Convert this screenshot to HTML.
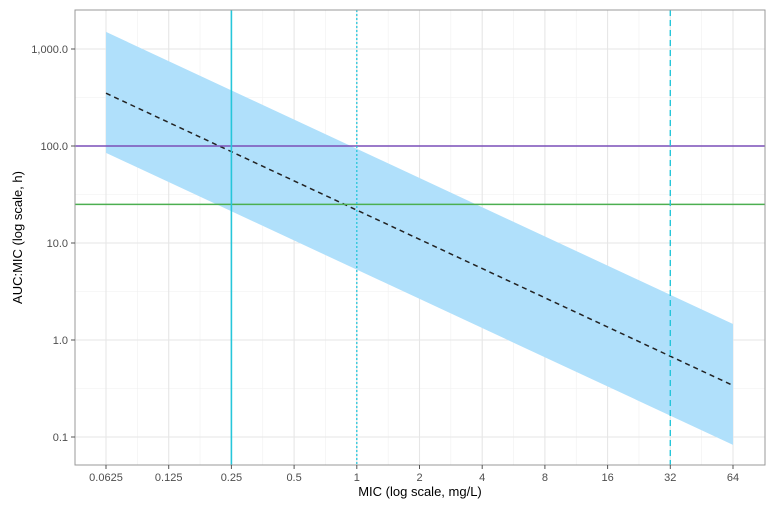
<!DOCTYPE html>
<html><head><meta charset="utf-8"><style>
body{margin:0;background:#fff;width:774px;height:505px;overflow:hidden}
svg text{font-family:"Liberation Sans",Arial,sans-serif}
</style></head><body>
<svg id="chart" width="774" height="505"></svg>
<script>
const xTicks=[0.0625,0.125,0.25,0.5,1,2,4,8,16,32,64];
const xTickLabels=["0.0625","0.125","0.25","0.5","1","2","4","8","16","32","64"];
const yTicks=[0.1,1,10,100,1000];
const yTickLabels=["0.1","1.0","10.0","100.0","1,000.0"];
const bandMic=[0.0625,64];
const bandUpper=[1500,1.46];
const bandLower=[85,0.083];
const medianAuc=[350,0.34];
const hLines=[100,25];
const vLines=[0.25,1,32];
const L=75,R=765,T=10,B=465;
const X=v=>106+62.7*Math.log2(v/0.0625);
const Y=v=>437-97*Math.log10(v/0.1);
const svg=document.getElementById('chart');
const NS='http://www.w3.org/2000/svg';
function mk(t,a,name){const e=document.createElementNS(NS,t);for(const k in a)e.setAttribute(k,a[k]);


svg.appendChild(e);return e;}
// minor grid
for(let i=0;i<xTicks.length-1;i++){const m=X(Math.sqrt(xTicks[i]*xTicks[i+1]));mk('line',{x1:m,x2:m,y1:T,y2:B,stroke:'#f0f0f0','stroke-width':0.6},'x-minor-grid');}
for(let i=0;i<yTicks.length-1;i++){const m=Y(Math.sqrt(yTicks[i]*yTicks[i+1]));mk('line',{x1:L,x2:R,y1:m,y2:m,stroke:'#f0f0f0','stroke-width':0.6},'y-minor-grid');}
xTicks.forEach(v=>mk('line',{x1:X(v),x2:X(v),y1:T,y2:B,stroke:'#e6e6e6','stroke-width':1.1},'x-major-grid'));
yTicks.forEach(v=>mk('line',{x1:L,x2:R,y1:Y(v),y2:Y(v),stroke:'#e6e6e6','stroke-width':1.1},'y-major-grid'));
// band
mk('polygon',{points:`${X(bandMic[0])},${Y(bandUpper[0])} ${X(bandMic[1])},${Y(bandUpper[1])} ${X(bandMic[1])},${Y(bandLower[1])} ${X(bandMic[0])},${Y(bandLower[0])}`,fill:'#b0e0fb'},'confidence-band');
mk('line',{x1:X(bandMic[0]),y1:Y(medianAuc[0]),x2:X(bandMic[1]),y2:Y(medianAuc[1]),stroke:'#222','stroke-width':1.5,'stroke-dasharray':'5,4'},'median-line');
mk('line',{x1:L,x2:R,y1:Y(hLines[0]),y2:Y(hLines[0]),stroke:'#7a4fb8','stroke-width':1.5},'target-100-line');
mk('line',{x1:L,x2:R,y1:Y(hLines[1]),y2:Y(hLines[1]),stroke:'#4caf50','stroke-width':1.5},'target-25-line');
mk('line',{x1:X(vLines[0]),x2:X(vLines[0]),y1:T,y2:B,stroke:'#26c6da','stroke-width':1.6},'mic-025-line');
mk('line',{x1:X(vLines[1]),x2:X(vLines[1]),y1:T,y2:B,stroke:'#26c6da','stroke-width':1.3,'stroke-dasharray':'2,2'},'mic-1-line');
mk('line',{x1:X(vLines[2]),x2:X(vLines[2]),y1:T,y2:B,stroke:'#26c6da','stroke-width':1.4,'stroke-dasharray':'6,4'},'mic-32-line');
mk('rect',{x:L,y:T,width:R-L,height:B-T,fill:'none',stroke:'#999','stroke-width':1},'plot-border');
xTicks.forEach((v,i)=>{mk('line',{x1:X(v),x2:X(v),y1:B,y2:B+4,stroke:'#555'},'x-tick');
const t=mk('text',{x:X(v),y:B+16,'text-anchor':'middle','font-size':11,fill:'#4d4d4d'},'x-tick-label');t.textContent=xTickLabels[i];});
yTicks.forEach((v,i)=>{mk('line',{x1:L-4,x2:L,y1:Y(v),y2:Y(v),stroke:'#555'},'y-tick');
const t=mk('text',{x:L-7,y:Y(v)+4,'text-anchor':'end','font-size':11,fill:'#4d4d4d'},'y-tick-label');t.textContent=yTickLabels[i];});
let t=mk('text',{x:(L+R)/2,y:496,'text-anchor':'middle','font-size':13,fill:'#000'},'x-axis-title');t.textContent='MIC (log scale, mg/L)';
t=mk('text',{x:22,y:(T+B)/2,'text-anchor':'middle','font-size':13,fill:'#000',transform:`rotate(-90 22 ${(T+B)/2})`},'y-axis-title');t.textContent='AUC:MIC (log scale, h)';
</script>
</body></html>
